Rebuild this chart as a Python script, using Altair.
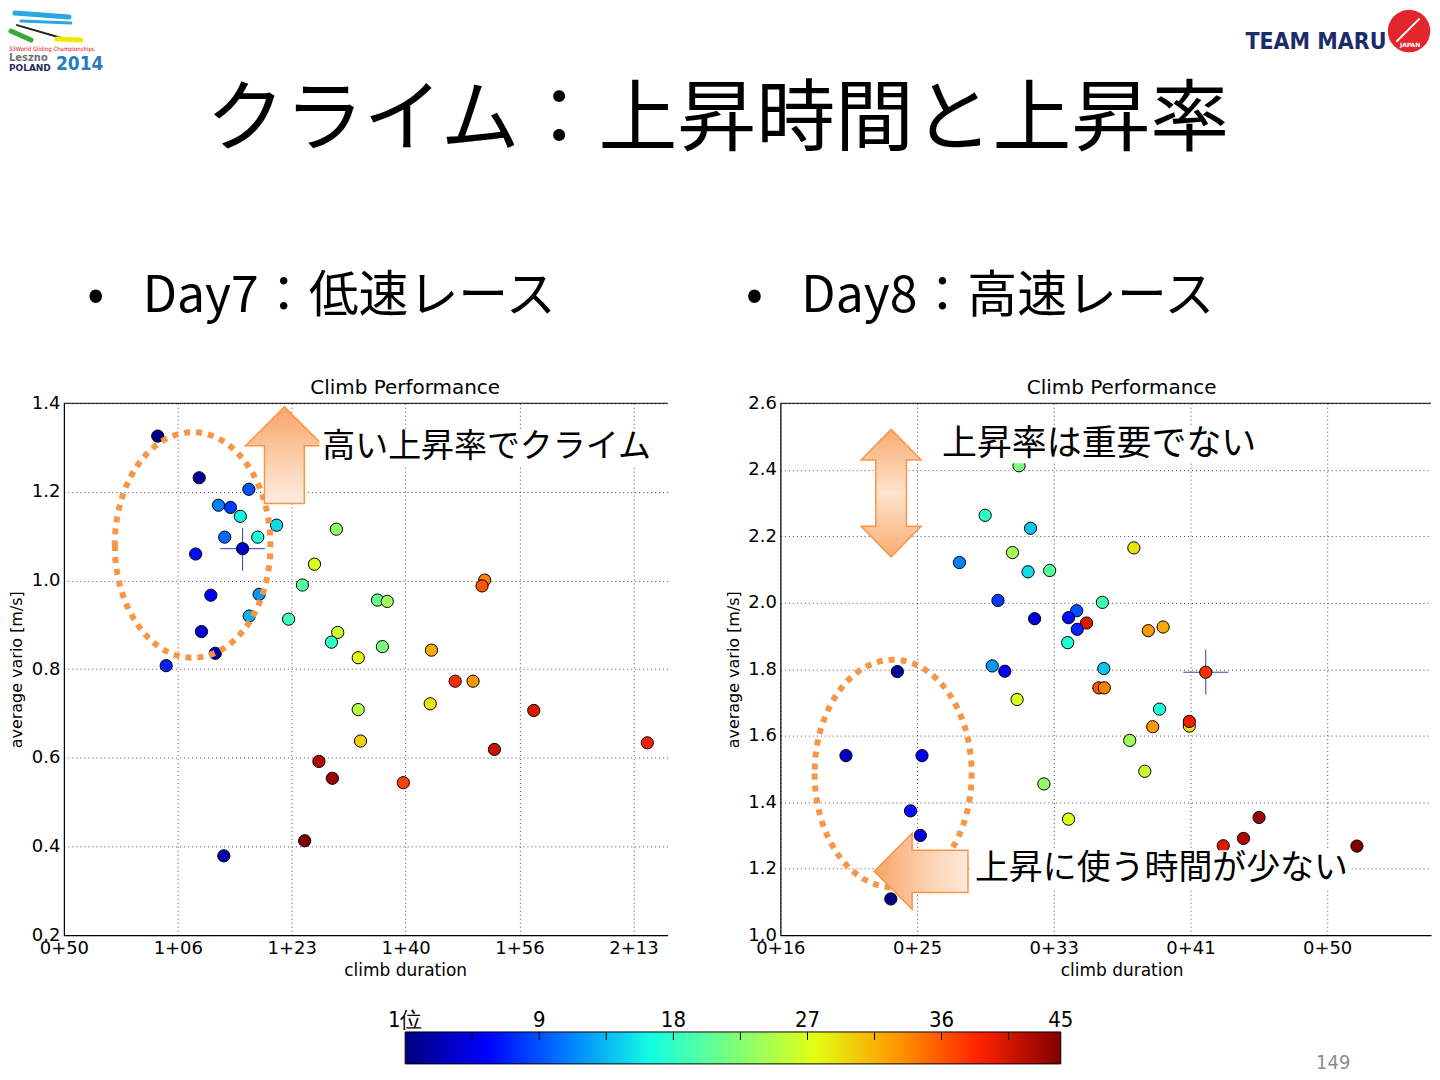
import pandas as pd
import altair as alt

JP = "Noto Sans CJK JP"
AX = "DejaVu Sans"
NARROW = "DejaVu Sans Condensed, Liberation Sans"
ORANGE = "#F79646"

# ---- Day7 (left panel): climb duration [s], average vario [m/s], final rank ----
day7_sec = [3824, 4188, 4624, 4357, 4463, 4549, 4867, 5392, 4412, 4702,
            4569, 4157, 5200, 6694, 6671, 5094, 4290, 4714, 5753, 5839,
            4973, 4627, 4208, 5404, 5349, 5796, 5584, 6227, 4329, 3898,
            6435, 6592, 5584, 6216, 7125, 5604, 8122, 6780, 5239, 5357,
            5980, 5114, 4404]
day7_vario = [1.326, 1.232, 1.206, 1.170, 1.165, 1.145, 1.125, 1.116, 1.098, 1.098,
              1.072, 1.060, 1.037, 1.001, 0.988, 0.990, 0.967, 0.969, 0.956, 0.953,
              0.913, 0.920, 0.885, 0.883, 0.861, 0.851, 0.826, 0.843, 0.836, 0.808,
              0.773, 0.773, 0.709, 0.722, 0.707, 0.638, 0.634, 0.619, 0.592, 0.554,
              0.544, 0.413, 0.379]
day7_rank = [1, 2, 10, 12, 9, 17, 16, 24, 11, 18,
             4, 7, 28, 35, 37, 21, 6, 13, 22, 25,
             20, 14, 5, 27, 19, 23, 29, 33, 3, 8,
             39, 34, 26, 30, 41, 31, 40, 42, 43, 44,
             38, 45, 3]
day7_cross_sec = [4372, 4569, 4765]      # low, centre, high
day7_cross_vario = [1.022, 1.072, 1.119]

# ---- Day8 (right panel) ----
day8_sec = [1873, 1749, 1915, 2293, 1849, 1655, 1906, 1985, 1796, 2178,
            1930, 2084, 2054, 2120, 2086, 2346, 2400, 2051, 1775, 1821,
            2183, 1428, 2556, 2165, 2185, 1866, 2387, 2362, 2496, 2496,
            2278, 1240, 1518, 2333, 1964, 1476, 2054, 2751, 2694, 2620,
            3109, 1512, 1404]
day8_vario = [2.412, 2.263, 2.224, 2.165, 2.151, 2.121, 2.093, 2.097, 2.007, 2.001,
              1.952, 1.976, 1.955, 1.939, 1.920, 1.916, 1.927, 1.880, 1.810, 1.794,
              1.802, 1.793, 1.791, 1.744, 1.744, 1.709, 1.680, 1.627, 1.629, 1.643,
              1.586, 1.540, 1.540, 1.493, 1.455, 1.374, 1.349, 1.354, 1.291, 1.269,
              1.268, 1.300, 1.109]
day8_rank = [23, 19, 15, 30, 25, 12, 16, 21, 9, 20,
             5, 10, 7, 41, 8, 34, 33, 18, 13, 6,
             15, 2, 39, 37, 35, 28, 18, 34, 30, 40,
             25, 4, 6, 27, 24, 7, 28, 44, 43, 41,
             45, 5, 1]
day8_cross_sec = [2474, 2556, 2639]
day8_cross_vario = [1.724, 1.791, 1.859]

day7_xticks = [3000, 4000, 5000, 6000, 7000, 8000]
day7_yticks = [0.2, 0.4, 0.6, 0.8, 1.0, 1.2, 1.4]
day8_xticks = [1000, 1500, 2000, 2500, 3000]
day8_yticks = [1.0, 1.2, 1.4, 1.6, 1.8, 2.0, 2.2, 2.4, 2.6]

cbar_ticks = [4.5, 9, 13.5, 18, 22.5, 27, 31.5, 36, 40.5]
cbar_label_pos = [0, 9, 18, 27, 36, 44]
cbar_labels = ["1位", "9", "18", "27", "36", "45"]

# matplotlib "jet"
JET = ["#000080", "#0000FF", "#0080FF", "#14FFE2", "#7BFF7B",
       "#E2FF14", "#FF9700", "#FF2200", "#800000"]
RANK_STOPS = [1, 6.5, 12, 17.5, 23, 28.5, 34, 39.5, 45]

HM = ("floor(datum.value / 3600) + '+' + "
      "(floor((datum.value % 3600) / 60) < 10 ? '0' : '') + floor((datum.value % 3600) / 60)")

ONE = pd.DataFrame({"k": [0]})

# page x of the left plot's origin; header and colour bar line up with it
OX = 63

ELLIPSE = "M -0.69 0 A 0.69 1 0 1 0 0.69 0 A 0.69 1 0 1 0 -0.69 0 Z"
UP_ARROW = "M0,-1 L0.804,-0.196 L0.412,-0.196 L0.412,1 L-0.412,1 L-0.412,-0.196 L-0.804,-0.196 Z"
UPDOWN_ARROW = ("M0,-1 L0.47,-0.52 L0.24,-0.52 L0.24,0.52 L0.47,0.52 L0,1 "
                "L-0.47,0.52 L-0.24,0.52 L-0.24,-0.52 L-0.47,-0.52 Z")
LEFT_ARROW = "M-1,0 L-0.19,-0.81 L-0.19,-0.45 L1,-0.45 L1,0.45 L-0.19,0.45 L-0.19,0.81 Z"


def grad(vertical, stops):
    return {"gradient": "linear", "x1": 0, "y1": 0,
            "x2": 0 if vertical else 1, "y2": 1 if vertical else 0,
            "stops": [{"offset": o, "color": c} for o, c in stops]}


def shape(path, cx, cy, size, **kw):
    return alt.Chart(ONE).mark_point(shape=path, size=size, opacity=1, **kw).encode(
        x=alt.value(cx), y=alt.value(cy))


def note(text, x, y, size, font=JP, align="left", baseline="middle", **kw):
    return alt.Chart(ONE).mark_text(text=text, font=font, fontSize=size, align=align,
                                    baseline=baseline, **kw).encode(x=alt.value(x), y=alt.value(y))


def box(x1, x2, y1, y2, color="white"):
    return alt.Chart(ONE).mark_rect(color=color).encode(
        x=alt.value(x1), x2=alt.value(x2), y=alt.value(y1), y2=alt.value(y2))


def stroke(x1, y1, x2, y2, color, width):
    return alt.Chart(ONE).mark_rule(color=color, strokeWidth=width, strokeCap="round").encode(
        x=alt.value(x1), y=alt.value(y1), x2=alt.value(x2), y2=alt.value(y2))


def panel(sec, vario, rank, csec, cvar, xdom, xticks, ydom, yticks, w, h, notes):
    def xe(field):
        return alt.X(f"{field}:Q", title="climb duration",
                     scale=alt.Scale(domain=xdom, nice=False, zero=False),
                     axis=alt.Axis(values=xticks, labelExpr=HM, labelFlush=False, grid=True,
                                   labelPadding=4, titlePadding=5, titleX=342))

    def ye(field):
        return alt.Y(f"{field}:Q", title="average vario [m/s]",
                     scale=alt.Scale(domain=ydom, nice=False, zero=False),
                     axis=alt.Axis(values=yticks, format=".1f", labelFlush=False, grid=True,
                                   labelPadding=4, minExtent=33, maxExtent=33,
                                   titlePadding=6, titleFontSize=16))

    pts = pd.DataFrame({"sec": sec, "vario": vario, "rank": rank})
    cross = pd.DataFrame({"xlo": [csec[0]], "cx": [csec[1]], "xhi": [csec[2]],
                          "ylo": [cvar[0]], "cy": [cvar[1]], "yhi": [cvar[2]]})

    hline = alt.Chart(cross).mark_rule(color="#3A3AB8", strokeWidth=1).encode(
        x=xe("xlo"), x2="xhi:Q", y=ye("cy"))
    vline = alt.Chart(cross).mark_rule(color="#3A3AB8", strokeWidth=1).encode(
        x=xe("cx"), y=ye("ylo"), y2="yhi:Q")
    dots = alt.Chart(pts).mark_circle(size=150, stroke="black", strokeWidth=1, opacity=1).encode(
        x=xe("sec"), y=ye("vario"),
        color=alt.Color("rank:Q", legend=None,
                        scale=alt.Scale(domain=RANK_STOPS, range=JET, interpolate="rgb")))
    top = alt.Chart(ONE).mark_rule(color="black", strokeWidth=1).encode(
        x=alt.value(0), x2=alt.value(w), y=alt.value(0))
    title = note("Climb Performance", 342, -15, 20, font=AX, align="center")
    return alt.layer(hline, vline, dots, top, title, *notes).properties(width=w, height=h)


left_notes = [
    shape(ELLIPSE, 129, 142, 51076, filled=False, stroke=ORANGE, strokeWidth=6,
          strokeDash=[6, 6]),
    shape(UP_ARROW, 221, 52, 9409, filled=True, stroke=ORANGE, strokeWidth=1.5,
          fill=grad(True, [(0, "#F8A466"), (0.6, "#FCD3B3"), (1, "#FEEDE1")])),
    box(256, 594, 26, 62),
    note("高い上昇率でクライム", 259, 44, 33),
]
right_notes = [
    shape(UPDOWN_ARROW, 111, 90, 16384, filled=True, stroke=ORANGE, strokeWidth=1.5,
          fill=grad(True, [(0, "#F9AC70"), (0.5, "#FDE3CF"), (1, "#F9AC70")])),
    box(160, 478, 22, 60),
    note("上昇率は重要でない", 162, 41, 35),
    shape(ELLIPSE, 113, 371, 51984, filled=False, stroke=ORANGE, strokeWidth=6,
          strokeDash=[6, 6]),
    shape(LEFT_ARROW, 141, 469, 8836, filled=True, stroke=ORANGE, strokeWidth=1.5,
          fill=grad(False, [(0, "#F8A466"), (0.6, "#FCD3B3"), (1, "#FEE9DA")])),
    box(192, 572, 448, 488),
    note("上昇に使う時間が少ない", 195, 467, 34),
]

left = panel(day7_sec, day7_vario, day7_rank, day7_cross_sec, day7_cross_vario,
             [3000, 8300], day7_xticks, [0.2, 1.4], day7_yticks, 605, 533, left_notes)
right = panel(day8_sec, day8_vario, day8_rank, day8_cross_sec, day8_cross_vario,
              [1000, 3380], day8_xticks, [1.0, 2.6], day8_yticks, 652, 533, right_notes)


def hx(page_x):
    return page_x - OX


def hy(page_y):
    return page_y - 8


header = alt.layer(
    # left logo
    stroke(hx(14), hy(12), hx(68), hy(16), "#29A8E0", 5),
    stroke(hx(20), hy(20), hx(70), hy(22), "#29A8E0", 3),
    stroke(hx(16), hy(24), hx(64), hy(38), "#222222", 2),
    stroke(hx(10), hy(30), hx(30), hy(39), "#3AAA35", 5),
    stroke(hx(56), hy(38), hx(80), hy(39), "#F4E900", 5),
    note("33World Gliding Championships", hx(8), hy(48), 6, font=NARROW, color="#E30613"),
    note("Leszno", hx(8), hy(57), 10, font=AX, fontWeight="bold", color="#6D6E71"),
    note("POLAND", hx(8), hy(67), 9, font=AX, fontWeight="bold", color="#1F2A5C"),
    note("2014", hx(55), hy(63), 19, font=NARROW, fontWeight="bold", color="#2A7ABF"),
    # right logo
    note("TEAM MARU", hx(1247), hy(48), 23, font=NARROW, fontWeight="bold", color="#1C2B6B",
         baseline="alphabetic"),
    alt.Chart(ONE).mark_circle(size=1810, color="#E3262E", opacity=1).encode(
        x=alt.value(hx(1411)), y=alt.value(hy(30))),
    stroke(hx(1399), hy(40), hx(1421), hy(18), "white", 2),
    note("JAPAN", hx(1412), hy(44), 6, font=AX, fontWeight="bold", color="white",
         align="center"),
    # titles
    note("クライム：上昇時間と上昇率", hx(718), hy(120), 79, align="center"),
    note("•", hx(95), hy(296), 50, align="center"),
    note("Day7：低速レース", hx(142), hy(297), 50),
    note("•", hx(755), hy(296), 50, align="center"),
    note("Day8：高速レース", hx(802), hy(297), 50),
).properties(width=1424 - 55, height=350)

cb_x = alt.Scale(domain=[0, 44], range=[hx(405), hx(1062)])
cbar = alt.layer(
    alt.Chart(pd.DataFrame({"lo": [0], "hi": [44]})).mark_rect(
        fill=grad(False, [(i / 8, c) for i, c in enumerate(JET)]),
        stroke="black", strokeWidth=1).encode(
        x=alt.X("lo:Q", scale=cb_x, axis=None), x2="hi:Q",
        y=alt.value(0), y2=alt.value(32)),
    alt.Chart(pd.DataFrame({"t": cbar_ticks})).mark_rule(color="black").encode(
        x=alt.X("t:Q", scale=cb_x, axis=None), y=alt.value(0), y2=alt.value(8)),
    alt.Chart(pd.DataFrame({"v": cbar_label_pos, "s": cbar_labels})).mark_text(
        font=NARROW, fontSize=22, baseline="alphabetic").encode(
        x=alt.X("v:Q", scale=cb_x, axis=None), y=alt.value(-5), text="s:N"),
    note("149", hx(1335), 31, 20, font=NARROW, color="#8C8C8C", align="center"),
).properties(width=1424 - 55, height=32)

chart = (
    alt.vconcat(
        header,
        alt.vconcat(alt.hconcat(left, right, spacing=57), cbar, spacing=31),
        spacing=20,
    )
    .properties(padding=0)
    .configure_view(stroke=None)
    .configure_axis(
        labelFont=AX, labelFontSize=18, labelColor="black",
        titleFont=AX, titleFontSize=17, titleFontWeight="normal", titleColor="black",
        domainColor="black", domainWidth=1.2, ticks=False,
        gridColor="black", gridDash=[1, 3], gridOpacity=0.7, gridWidth=1,
    )
)

chart.save("out.html", embed_options={"renderer": "svg", "actions": False})
